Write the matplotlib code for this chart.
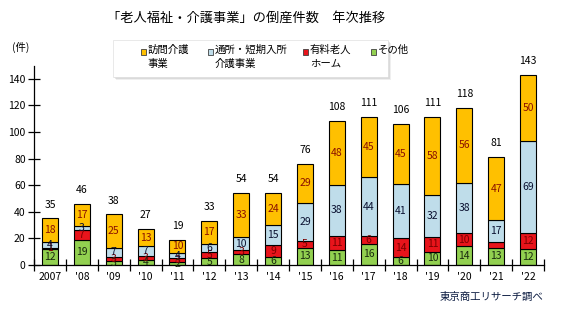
import matplotlib
matplotlib.use("Agg")
import matplotlib.pyplot as plt
from matplotlib.patches import Rectangle
import numpy as np

plt.rcParams['font.family'] = ['Noto Sans CJK JP', 'DejaVu Sans']

years = ["2007", "'08", "'09", "'10", "'11", "'12", "'13", "'14", "'15",
         "'16", "'17", "'18", "'19", "'20", "'21", "'22"]
other = [12, 19, 3, 4, 2, 5, 8, 6, 13, 11, 16, 6, 10, 14, 13, 12]
nursing_home = [1, 7, 3, 3, 3, 5, 3, 9, 5, 11, 6, 14, 11, 10, 4, 12]
day_service = [4, 3, 7, 7, 4, 6, 10, 15, 29, 38, 44, 41, 32, 38, 17, 69]
home_care = [18, 17, 25, 13, 10, 17, 33, 24, 29, 48, 45, 45, 58, 56, 47, 50]
totals = [35, 46, 38, 27, 19, 33, 54, 54, 76, 108, 111, 106, 111, 118, 81, 143]
hidden_labels = [("nursing_home", "'21")]

series = [
    ("other", "その他", other, "#92D050", "#1a2a10"),
    ("nursing_home", "有料老人\nホーム", nursing_home, "#E8141B", "#7a0000"),
    ("day_service", "通所・短期入所\n介護事業", day_service, "#BFDDEA", "#0a1030"),
    ("home_care", "訪問介護\n事業", home_care, "#FFC000", "#8a1000"),
]

fig = plt.figure(figsize=(5.73, 3.26), dpi=100)
ax = fig.add_axes([34/573, 1-265/326, 510/573, 199.4/326])

x = np.arange(len(years))
bottom = np.zeros(len(years))
for key, label, vals, color, tcolor in series:
    vals = np.array(vals, dtype=float)
    ax.bar(x, vals, 0.5, bottom=bottom, color=color, edgecolor="black", linewidth=0.8, zorder=2)
    for i, v in enumerate(vals):
        if (key, years[i]) in hidden_labels:
            continue
        ax.text(x[i], bottom[i] + v/2, f"{int(v)}", ha="center", va="center",
                fontsize=7.5, color=tcolor, zorder=3)
    bottom += vals

for i, t in enumerate(totals):
    ax.text(x[i], t + 10.5, f"{t}", ha="center", va="center", fontsize=7.5, color="black")

ax.set_xlim(-0.5, len(years) - 0.5)
ax.set_ylim(0, 150)
ax.spines['top'].set_visible(False)
ax.spines['right'].set_visible(False)
ax.spines['left'].set_linewidth(0.9)
ax.spines['bottom'].set_linewidth(0.9)
ax.set_yticks(np.arange(0, 141, 20))
ax.tick_params(axis='y', direction='inout', length=8, width=0.9, labelsize=7.5, pad=2)
ax.set_xticks(np.arange(-0.5, len(years), 1.0))
ax.set_xticklabels([])
ax.set_xticks(x, minor=True)
ax.set_xticklabels(years, minor=True)
ax.tick_params(axis='x', which='major', direction='inout', length=8, width=0.9)
ax.tick_params(axis='x', which='minor', length=0, labelsize=7.5, pad=5)

fig.text(12/573, 1-47/326, "(件)", fontsize=7.5, va="center", ha="left")
fig.text(246/573, 1-18/326, "「老人福祉・介護事業」の倒産件数　年次推移", ha="center", va="center", fontsize=9.5)
fig.text(543/573, 1-297/326, "東京商工リサーチ調べ", ha="right", va="center", fontsize=7.5, color="#0a1a40")

# legend box with shadow
lx0, ly0, lw, lh = 113, 40, 275, 37
for k, a in enumerate([0.12, 0.18, 0.25]):
    off = 3 - k
    fig.patches.append(Rectangle(((lx0+off)/573, 1-(ly0+lh+off)/326), lw/573, lh/326,
                                 transform=fig.transFigure, facecolor="#808080", alpha=a,
                                 edgecolor="none", zorder=1))
fig.patches.append(Rectangle((lx0/573, 1-(ly0+lh)/326), lw/573, lh/326,
                             transform=fig.transFigure, facecolor="white",
                             edgecolor="#e0e0e0", linewidth=0.5, zorder=2))
legend_order = [series[3], series[2], series[1], series[0]]
marker_x = [141, 208, 303, 371]
for (key, label, vals, color, tcolor), mx in zip(legend_order, marker_x):
    fig.patches.append(Rectangle((mx/573, 1-(52+2.5)/326), 5/573, 5/326,
                                 transform=fig.transFigure, facecolor=color,
                                 edgecolor="#404040", linewidth=0.6, zorder=3))
    fig.text((mx+7)/573, 1-45/326, label, fontsize=7.5, va="top", ha="left",
             linespacing=1.45, zorder=4)

fig.savefig("out.png", dpi=100, facecolor="white")
